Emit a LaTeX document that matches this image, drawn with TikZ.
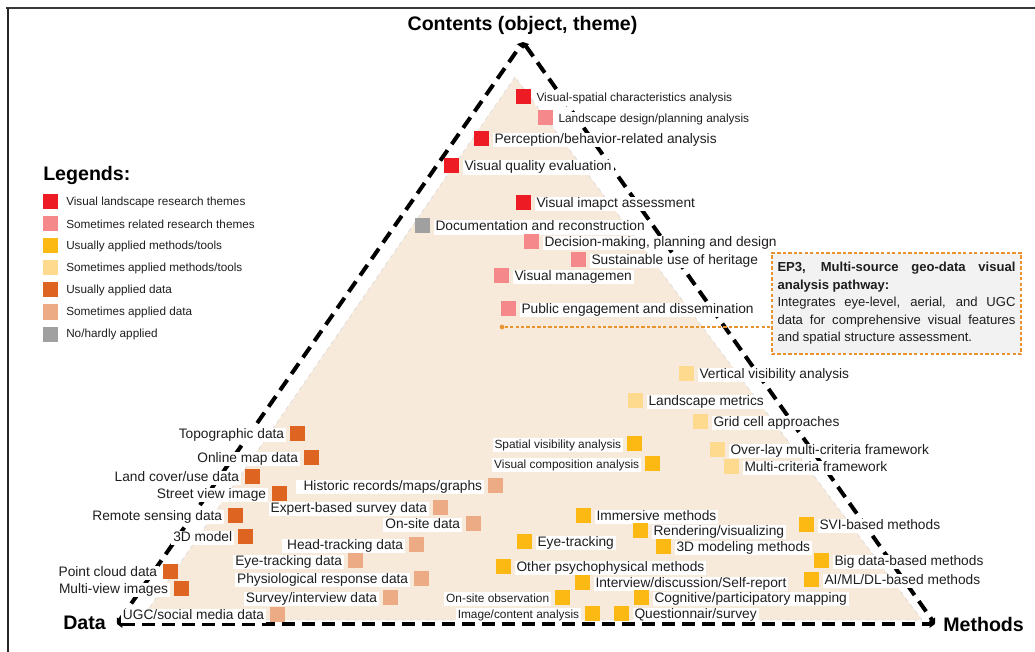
\documentclass[tikz,border=0pt]{standalone}
\usepackage{fontspec}
\setmainfont{Liberation Sans}
\usetikzlibrary{arrows.meta}

\definecolor{cRed}{HTML}{ED1C24}
\definecolor{cPink}{HTML}{F4888A}
\definecolor{cYel}{HTML}{FDB913}
\definecolor{cLYel}{HTML}{FDDA8E}
\definecolor{cOra}{HTML}{DD6521}
\definecolor{cSal}{HTML}{ECAB84}
\definecolor{cGray}{HTML}{A0A0A0}
\definecolor{cBeige}{HTML}{F8EADB}
\definecolor{cBoxLine}{HTML}{E8932E}
\definecolor{cBoxFill}{HTML}{F2F2F2}
\definecolor{cText}{HTML}{1E1E1E}

\tikzset{
  sq/.style={rectangle, inner sep=0pt, minimum size=11.25pt, draw=none},
  lbl/.style={fill=white, inner xsep=1.5pt, inner ysep=0.8pt, text=cText, yshift=-1pt,
    text height=0.72em, text depth=0.2em, font=\fontsize{10.3}{12}\selectfont},
  lblsmall/.style={font=\fontsize{8.9}{10.5}\selectfont},
  axisline/.style={line width=3pt, black, dash pattern=on 9.5pt off 5.5pt,
    {Triangle[length=4pt,width=5.5pt]}-{Triangle[length=4pt,width=5.5pt]}},
  titletext/.style={font=\fontsize{14.7}{17}\bfseries\selectfont, inner sep=0pt, text=black},
  legtext/.style={font=\fontsize{8.8}{10.5}\selectfont, inner sep=0pt, anchor=west, text=cText},
}

% square with its label to the right
\newcommand\sqR[6]{%
  \node[sq, fill=#4] (#1) at (#2,#3) {};
  \node[lbl, #5, anchor=west, xshift=2.25pt] (#1t) at (#1.east) {#6};}
% square with its label to the left
\newcommand\sqL[6]{%
  \node[sq, fill=#4] (#1) at (#2,#3) {};
  \node[lbl, #5, anchor=east, xshift=-2.5pt] (#1t) at (#1.west) {#6};}
% legend row
\newcommand\legrow[4]{%
  \node[sq, fill=#3] (#1) at (50.5,#2) {};
  \node[legtext] (#1t) at (66,#2) {#4};}

\begin{document}
\hyphenpenalty=10000
\exhyphenpenalty=10000
\tolerance=9999
\begin{tikzpicture}[x=0.75pt, y=-0.75pt]
\useasboundingbox (0,0) rectangle (1035,652);

% frame
\draw[line width=1.5pt, black!78] (6,8.5) -- (1035,8.5);
\draw[line width=1.5pt, black!85] (7.5,8) -- (7.5,652);

% shaded inner triangle
\filldraw[fill=cBeige, draw=black!15, line width=0.5pt, dashed]
  (515,77) -- (141,620) -- (922,620) -- cycle;

% dashed outer triangle with tips at the corners
\coordinate (apex) at (523,42);
\coordinate (dataC) at (117,624);
\coordinate (methC) at (935,624);
\draw[axisline] (dataC) -- (apex);
\draw[axisline] (apex) -- (methC);
\draw[axisline] (dataC) -- (methC);

% corner titles
\node[titletext] (tContents) at (522.5,25) {Contents (object, theme)};
\node[titletext, anchor=west] (tData) at (63,623) {Data};
\node[titletext, anchor=west] (tMethods) at (943,624) {Methods};

% legend
\node[titletext, anchor=west] (legTitle) at (43,175) {Legends:};
\legrow{lg1}{202}{cRed}{Visual landscape research themes}
\legrow{lg2}{224}{cPink}{Sometimes related research themes}
\legrow{lg3}{246}{cYel}{Usually applied methods/tools}
\legrow{lg4}{268}{cLYel}{Sometimes applied methods/tools}
\legrow{lg5}{290}{cOra}{Usually applied data}
\legrow{lg6}{312}{cSal}{Sometimes applied data}
\legrow{lg7}{334}{cGray}{No/hardly applied}

% research themes
\sqR{t1}{523.5}{97}{cRed}{lblsmall}{Visual-spatial characteristics analysis}
\sqR{t2}{545.5}{117.5}{cPink}{lblsmall}{Landscape design/planning analysis}
\sqR{t3}{481.5}{138.5}{cRed}{}{Perception/behavior-related analysis}
\sqR{t4}{451.5}{166}{cRed}{}{Visual quality evaluation}
\sqR{t5}{523.5}{202.5}{cRed}{}{Visual imapct assessment}
\sqR{t6}{422.5}{226}{cGray}{}{Documentation and reconstruction}
\sqR{t7}{531.5}{241.5}{cPink}{}{Decision-making, planning and design}
\sqR{t8}{578.5}{259.5}{cPink}{}{Sustainable use of heritage}
\sqR{t9}{501.5}{275.5}{cPink}{}{Visual managemen\hspace{3pt}}
\sqR{t10}{508.5}{308.5}{cPink}{}{Public engagement and dissemination}

% sometimes applied methods
\sqR{m1}{686.5}{373.5}{cLYel}{}{Vertical visibility analysis}
\sqR{m2}{635.5}{400.5}{cLYel}{}{Landscape metrics}
\sqR{m3}{700.5}{421.5}{cLYel}{}{Grid cell approaches}
\sqR{m4}{717.5}{449.5}{cLYel}{}{Over-lay multi-criteria framework}
\sqR{m5}{731.5}{466.5}{cLYel}{}{Multi-criteria framework}

% usually applied methods
\sqL{u12}{634.5}{443.5}{cYel}{lblsmall}{Spatial visibility analysis}
\sqL{u13}{652.5}{463.5}{cYel}{lblsmall}{Visual composition analysis}
\sqR{u1}{583.5}{515.5}{cYel}{}{Immersive methods}
\sqR{u2}{640.5}{530.5}{cYel}{}{Rendering/visualizing}
\sqR{u3}{663.5}{546.5}{cYel}{}{3D modeling methods}
\sqR{u4}{524.5}{541.5}{cYel}{}{Eye-tracking\hspace{8pt}}
\sqR{u5}{503.5}{566.5}{cYel}{}{Other psychophysical methods}
\sqR{u6}{582.5}{582.5}{cYel}{}{Interview/discussion/Self-report}
\sqL{u14}{562.5}{597.5}{cYel}{lblsmall}{On-site observation}
\sqR{u7}{641.5}{597.5}{cYel}{}{Cognitive/participatory mapping}
\sqL{u15}{592.5}{613.5}{cYel}{lblsmall}{Image/content analysis}
\sqR{u8}{621.5}{613.5}{cYel}{}{Questionnair/survey\hspace{7pt}}
\sqR{u9}{806.5}{524.5}{cYel}{}{SVI-based methods}
\sqR{u10}{821.5}{560.5}{cYel}{}{Big data-based methods}
\sqR{u11}{811.5}{579.5}{cYel}{}{AI/ML/DL-based methods}

% usually applied data
\sqL{d1}{297.5}{433.5}{cOra}{}{Topographic data}
\sqL{d2}{311.5}{457.5}{cOra}{}{Online map data}
\sqL{d3}{252.5}{476.5}{cOra}{}{Land cover/use data}
\sqL{d4}{279.5}{493.5}{cOra}{}{Street view image}
\sqL{d5}{235.5}{515.5}{cOra}{}{Remote sensing data}
\sqL{d6}{245.5}{536.5}{cOra}{}{3D model}
\sqL{d7}{170.5}{571.5}{cOra}{}{Point cloud data}
\sqL{d8}{181.5}{588.5}{cOra}{}{Multi-view images}

% sometimes applied data
\sqL{s1}{495.5}{485.5}{cSal}{}{\hspace{4pt}Historic records/maps/graphs}
\sqL{s2}{440.5}{507.5}{cSal}{}{Expert-based survey data}
\sqL{s3}{473.5}{523.5}{cSal}{}{On-site data}
\sqL{s4}{416.5}{544.5}{cSal}{}{\hspace{2pt}Head-tracking data}
\sqL{s5}{355.5}{560.5}{cSal}{}{Eye-tracking data}
\sqL{s6}{421.5}{578.5}{cSal}{}{Physiological response data}
\sqL{s7}{390.5}{597.5}{cSal}{}{Survey/interview data}
\sqL{s8}{277.5}{614.5}{cSal}{}{UGC/social media data}

% pathway note and its pointer
\node[draw=cBoxLine, fill=cBoxFill, line width=1pt, dash pattern=on 2.5pt off 1.6pt,
      text width=178.5pt, inner xsep=4.1pt, inner ysep=2pt,
      minimum width=186.75pt, minimum height=75.75pt, align=justify, text=cText,
      font=\fontsize{9.8}{13.1}\selectfont]
  (ep3) at (896.5,303.5)
  {\textbf{EP3, Multi-source geo-data visual analysis pathway:}\par
   Integrates eye-level, aerial, and UGC data for comprehensive visual features and spatial structure assessment.};
\node[circle, fill=cBoxLine, inner sep=0pt, minimum size=3.5pt] (dot) at (502,327) {};
\draw[cBoxLine, line width=1pt, dash pattern=on 2.5pt off 1.6pt] (dot) -- (dot -| ep3.west);

\end{tikzpicture}
\end{document}
